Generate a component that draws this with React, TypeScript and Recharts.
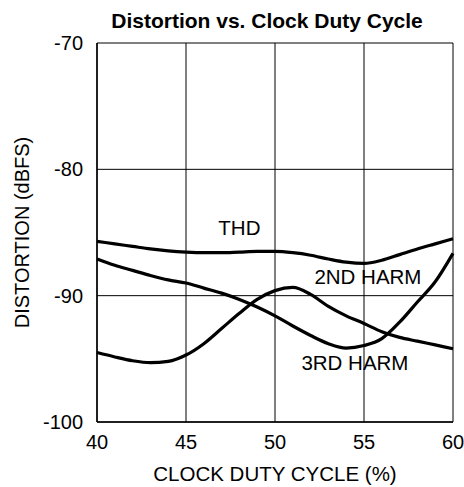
import React from 'react';
import {
  LineChart,
  Line,
  XAxis,
  YAxis,
  CartesianGrid,
  ReferenceDot
} from 'recharts';

// duty cycle (%) sample points
const dutyCycle = [40, 41, 42, 43, 44, 45, 46, 47, 48, 49, 50, 51, 52, 53, 54, 55, 56, 57, 58, 59, 60];
const thd = [
  -85.7, -85.9, -86.1, -86.3, -86.45, -86.55, -86.6, -86.6, -86.55, -86.5, -86.5,
  -86.6, -86.8, -87.1, -87.35, -87.45, -87.2, -86.75, -86.3, -85.9, -85.5
];
// falls steadily, bottoms out near 54 %, then climbs steeply
const thirdHarm = [
  -87.1, -87.6, -88.0, -88.4, -88.75, -89.0, -89.4, -89.8, -90.3, -90.9, -91.6,
  -92.4, -93.15, -93.8, -94.15, -93.95, -93.4, -92.1, -90.5, -88.9, -86.65
];
// dips near 43 %, peaks near 51 %, then drifts down
const secondHarm = [
  -94.5, -94.85, -95.15, -95.3, -95.2, -94.7, -93.8, -92.6, -91.4, -90.3, -89.6,
  -89.35, -89.9, -90.85, -91.6, -92.2, -92.85, -93.3, -93.6, -93.9, -94.2
];

const xTicks = [40, 45, 50, 55, 60];
const yTicks = [-100, -90, -80, -70];

const data = dutyCycle.map((d, i) => ({
  duty: d,
  thd: thd[i],
  h2: secondHarm[i],
  h3: thirdHarm[i]
}));

const font = '"Liberation Sans", Arial, sans-serif';

const YLabel = (props: any) => {
  const vb = props.viewBox;
  const cx = vb.x + 22;
  const cy = vb.y + vb.height / 2;
  return (
    <text
      x={cx}
      y={cy}
      transform={`rotate(-90, ${cx}, ${cy})`}
      textAnchor="middle"
      dominantBaseline="central"
      fontSize={20}
      fontFamily={font}
      fill="#000"
    >
      DISTORTION (dBFS)
    </text>
  );
};

const labelStyle = { position: 'center' as const, fill: '#000', fontSize: 20.5, fontFamily: font };

const App: React.FC = () => {
  return (
    <div style={{ position: 'absolute', left: 0, top: 0, width: 464, height: 487, background: '#fff' }}>
      <div
        style={{
          position: 'absolute',
          left: 267,
          top: 8,
          transform: 'translateX(-50%)',
          whiteSpace: 'nowrap',
          fontFamily: font,
          fontWeight: 'bold',
          fontSize: 21,
          lineHeight: '26px'
        }}
      >
        Distortion vs. Clock Duty Cycle
      </div>
      <LineChart
        width={464}
        height={487}
        data={data}
        margin={{ top: 43, right: 11, left: 0, bottom: 0 }}
      >
        <CartesianGrid stroke="#000" strokeWidth={1} />
        <XAxis
          dataKey="duty"
          type="number"
          domain={[40, 60]}
          ticks={xTicks}
          height={65}
          tickSize={0}
          tickMargin={13}
          axisLine={{ stroke: '#000', strokeWidth: 1.5 }}
          tick={{ fill: '#000', fontSize: 20, fontFamily: font }}
          label={{
            value: 'CLOCK DUTY CYCLE (%)',
            position: 'insideBottom',
            offset: 6,
            fill: '#000',
            fontSize: 20.5,
            fontFamily: font
          }}
        />
        <YAxis
          type="number"
          domain={[-100, -70]}
          ticks={yTicks}
          width={97}
          tickSize={0}
          tickMargin={14}
          axisLine={{ stroke: '#000', strokeWidth: 1.5 }}
          tick={{ fill: '#000', fontSize: 20, fontFamily: font }}
          label={{ content: YLabel }}
        />
        <Line
          type="monotone"
          dataKey="thd"
          stroke="#000"
          strokeWidth={3.2}
          dot={false}
          isAnimationActive={false}
        />
        <Line
          type="monotone"
          dataKey="h2"
          stroke="#000"
          strokeWidth={3.2}
          dot={false}
          isAnimationActive={false}
        />
        <Line
          type="monotone"
          dataKey="h3"
          stroke="#000"
          strokeWidth={3.2}
          dot={false}
          isAnimationActive={false}
        />
        <ReferenceDot x={48} y={-84.65} r={0} label={{ value: 'THD', ...labelStyle }} />
        <ReferenceDot x={55.22} y={-88.53} r={0} label={{ value: '2ND HARM', ...labelStyle }} />
        <ReferenceDot x={54.49} y={-95.3} r={0} label={{ value: '3RD HARM', ...labelStyle }} />
      </LineChart>
    </div>
  );
};

export default App;
